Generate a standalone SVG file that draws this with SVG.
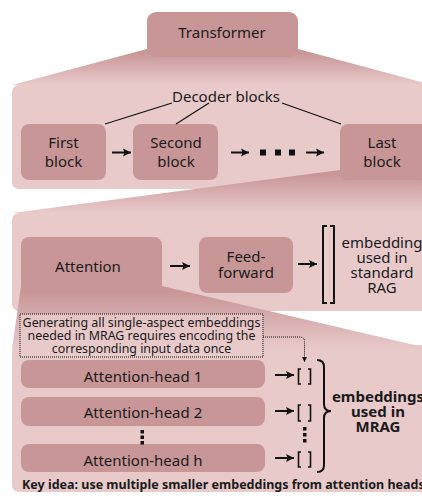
<svg xmlns="http://www.w3.org/2000/svg" width="422" height="496" viewBox="0 0 422 496">
<defs>
<linearGradient id="g1" x1="0" y1="49" x2="0" y2="85" gradientUnits="userSpaceOnUse"><stop offset="0.1" stop-color="#c99697"/><stop offset="1" stop-color="#e8cacb"/></linearGradient>
<linearGradient id="g2" x1="0" y1="170" x2="0" y2="213" gradientUnits="userSpaceOnUse"><stop offset="0.1" stop-color="#c99697"/><stop offset="1" stop-color="#e8cacb"/></linearGradient>
<linearGradient id="g3" x1="0" y1="286" x2="0" y2="350" gradientUnits="userSpaceOnUse"><stop offset="0.1" stop-color="#c99697"/><stop offset="1" stop-color="#e8cacb"/></linearGradient>
<marker id="ah" viewBox="0 0 10 10" refX="10" refY="5" markerWidth="8" markerHeight="9" markerUnits="userSpaceOnUse" orient="auto"><path d="M0,0 L10,5 L0,10 L2,5 z" fill="#111"/></marker>
<marker id="ahs" viewBox="0 0 10 10" refX="10" refY="5" markerWidth="5" markerHeight="6" markerUnits="userSpaceOnUse" orient="auto"><path d="M0,0 L10,5 L0,10 z" fill="#111"/></marker>
</defs>
<style>
.panel{fill:#e8cacb}
.box{fill:#c99697}
text{font-family:"Noto Sans","Open Sans","DejaVu Sans",sans-serif;fill:#1a1a1a;text-anchor:middle}
.t14{font-size:15px}
.t11{font-size:12.4px}
.b{font-weight:bold}
.arr{stroke:#111;stroke-width:2;fill:none;marker-end:url(#ah)}
.ln{stroke:#111;stroke-width:1.2;fill:none}
.br{stroke:#111;stroke-width:2;fill:none}
.sbr{stroke:#111;stroke-width:1.6;fill:none}
.dot{fill:#111}
</style>

<!-- Level 1 -->
<g id="panel1">
<rect class="panel" x="12" y="85" width="430" height="104" rx="7"/>
</g>
<g id="transformer">
<polygon points="147,49 298,49 432,85 12,85" fill="url(#g1)"/>
<rect class="box" x="147" y="12" width="151" height="45" rx="9"/>
<text class="t14" x="222" y="38">Transformer</text>
</g>
<g id="first-block">
<rect class="box" x="21" y="124" width="85" height="56" rx="8"/>
<text class="t14" x="63.5" y="148">First</text>
<text class="t14" x="63.5" y="167">block</text>
</g>
<g id="second-block">
<rect class="box" x="133" y="124" width="85" height="56" rx="8"/>
<text class="t14" x="176" y="148">Second</text>
<text class="t14" x="176" y="167">block</text>
</g>
<g id="decoder-label">
<text class="t14" x="226" y="102">Decoder blocks</text>
</g>

<!-- Level 2 -->
<g id="panel2">
<rect class="panel" x="12" y="213" width="430" height="98" rx="7"/>
<polygon points="340,170 440,170 440,213 12,213" fill="url(#g2)"/>
</g>
<g id="last-block">
<rect class="box" x="340" y="124" width="100" height="56" rx="8"/>
<polygon points="340,150 440,150 440,171 340,171" class="box"/>
<text class="t14" x="382" y="148">Last</text>
<text class="t14" x="382" y="167">block</text>
</g>
<g id="feed-forward">
<rect class="box" x="199" y="237" width="94" height="56" rx="8"/>
<text class="t14" x="246" y="262">Feed-</text>
<text class="t14" x="246" y="278">forward</text>
</g>
<g id="embedding-rag">
<path class="br" d="M327,226 H323 V303 H327"/>
<path class="br" d="M330,226 H334 V303 H330"/>
<text class="t14" x="382" y="248">embedding</text>
<text class="t14" x="382" y="263">used in</text>
<text class="t14" x="382" y="278">standard</text>
<text class="t14" x="382" y="293">RAG</text>
</g>

<!-- Level 3 -->
<g id="panel3">
<rect class="panel" x="12" y="345" width="430" height="147" rx="7"/>
<polygon points="21,286 162,286 432,349 12,349" fill="url(#g3)"/>
</g>
<g id="attention">
<rect class="box" x="21" y="237" width="141" height="56" rx="8"/>
<text class="t14" x="88" y="272">Attention</text>
</g>
<g id="note">
<rect x="20" y="314" width="243" height="43" fill="#e8cacb" fill-opacity="0.8" stroke="#111" stroke-width="1" stroke-dasharray="1,1"/>
<text class="t11" x="141.5" y="327">Generating all single-aspect embeddings</text>
<text class="t11" x="141.5" y="340">needed in MRAG requires encoding the</text>
<text class="t11" x="141.5" y="353">corresponding input data once</text>
</g>
<g id="head-1">
<rect class="box" x="21" y="360" width="244" height="28" rx="8"/>
<text class="t14" x="143" y="382">Attention-head 1</text>
</g>
<g id="head-2">
<rect class="box" x="21" y="397" width="244" height="29" rx="8"/>
<text class="t14" x="143" y="418">Attention-head 2</text>
</g>
<g id="head-h">
<rect class="box" x="21" y="444" width="244" height="28" rx="8"/>
<text class="t14" x="143" y="466">Attention-head h</text>
</g>
<g id="head-dots">
<rect class="dot" x="140.5" y="430" width="3.5" height="3.5"/>
<rect class="dot" x="140.5" y="435.5" width="3.5" height="3.5"/>
<rect class="dot" x="140.5" y="441" width="3.5" height="3.5"/>
</g>
<g id="mrag-embeddings">
<path class="sbr" d="M301,369 H298.5 V384 H301"/>
<path class="sbr" d="M308,369 H310.5 V384 H308"/>
<path class="sbr" d="M301,405 H298.5 V421 H301"/>
<path class="sbr" d="M308,405 H310.5 V421 H308"/>
<path class="sbr" d="M301,452 H298.5 V467 H301"/>
<path class="sbr" d="M308,452 H310.5 V467 H308"/>
<rect class="dot" x="303" y="427" width="3.5" height="3.5"/>
<rect class="dot" x="303" y="433" width="3.5" height="3.5"/>
<rect class="dot" x="303" y="439" width="3.5" height="3.5"/>
<path class="br" d="M317,360 Q324,360 324,367 V404 Q324,411 331,411 Q324,411 324,418 V465 Q324,472 317,472"/>
<text class="t14 b" x="378" y="402">embeddings</text>
<text class="t14 b" x="378" y="417">used in</text>
<text class="t14 b" x="378" y="432">MRAG</text>
</g>
<g id="key-idea">
<text class="b" x="22" y="489" style="font-size:12.5px;text-anchor:start">Key idea: use multiple smaller embeddings from attention heads</text>
</g>

<!-- Connectors -->
<g id="connectors">
<line class="ln" x1="172" y1="103" x2="105" y2="124"/>
<line class="ln" x1="209" y1="103" x2="176" y2="124"/>
<line class="ln" x1="282" y1="103" x2="341" y2="124"/>
<line class="arr" x1="112" y1="152.5" x2="131" y2="152.5"/>
<line class="arr" x1="231" y1="152.5" x2="249" y2="152.5"/>
<rect class="dot" x="260" y="149.5" width="6" height="6"/>
<rect class="dot" x="275" y="149.5" width="6" height="6"/>
<rect class="dot" x="289" y="149.5" width="6" height="6"/>
<line class="arr" x1="306" y1="152.5" x2="324" y2="152.5"/>
<line class="arr" x1="170" y1="266" x2="190" y2="266"/>
<line class="arr" x1="298" y1="264" x2="317" y2="264"/>
<line class="arr" x1="275" y1="375" x2="294" y2="375"/>
<line class="arr" x1="275" y1="411" x2="294" y2="411"/>
<line class="arr" x1="275" y1="458" x2="294" y2="458"/>
<path d="M263,337 H300 Q304.5,337 304.5,341.5 V362" fill="none" stroke="#111" stroke-width="1" stroke-dasharray="1,1" marker-end="url(#ahs)"/>
</g>
</svg>
